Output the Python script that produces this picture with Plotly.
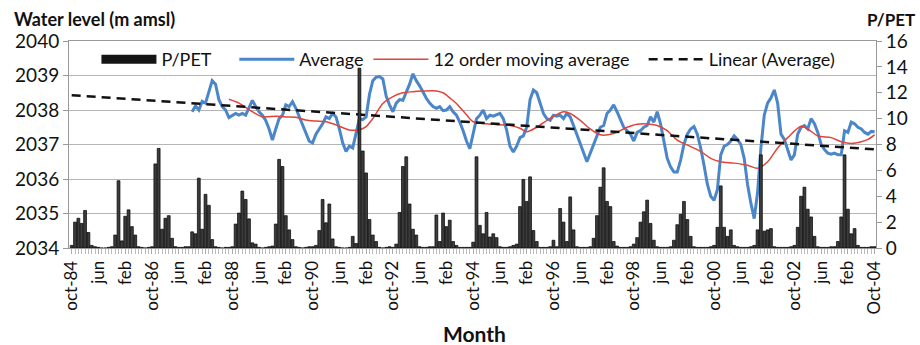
import plotly.graph_objects as go

# ---------------- data ----------------
# month index 0 = Oct 1984 ... 240 = Oct 2004
tick_labels = ["oct-84", "jun", "feb", "oct-86", "jun", "feb", "oct-88", "jun", "feb",
               "oct-90", "jun", "feb", "oct-92", "jun", "feb", "oct-94", "jun", "feb",
               "oct-96", "jun", "feb", "oct-98", "jun", "feb", "oct-00", "jun", "feb",
               "oct-02", "jun", "feb", "Oct-04"]

# P/PET, one list per hydrological year (Oct..Sep)
ppet_years = [
    [0.2, 2.0, 2.3, 1.9, 2.9, 1.2, 0.2, 0.1, 0.05, 0, 0, 0.05],
    [0.1, 1.0, 5.2, 0.55, 2.45, 2.95, 1.65, 1.0, 0.1, 0.05, 0, 0.05],
    [0.1, 6.5, 7.7, 1.45, 2.3, 2.5, 0.75, 0.1, 0.05, 0.05, 0.1, 0.1],
    [1.25, 1.1, 5.4, 1.45, 4.15, 3.3, 0.65, 0.1, 0.05, 0, 0.05, 0.05],
    [0.1, 1.85, 2.7, 4.4, 3.75, 2.25, 0.4, 0.3, 0.05, 0, 0.05, 0.1],
    [0.15, 1.85, 6.85, 6.3, 2.5, 1.4, 0.65, 0.1, 0.05, 0, 0.05, 0.1],
    [0.1, 0.2, 1.35, 3.75, 1.95, 3.4, 0.7, 0.1, 0.05, 0, 0, 0.05],
    [0.9, 0.35, 13.9, 7.5, 5.8, 2.2, 1.0, 0.5, 0.05, 0, 0.05, 0.1],
    [0.05, 0.3, 2.75, 6.3, 7.05, 3.4, 1.45, 1.0, 0.1, 0.05, 0.05, 0.1],
    [0.1, 2.55, 0.5, 2.7, 1.65, 2.15, 0.5, 0.2, 0.05, 0.05, 0.05, 0.05],
    [0.45, 7.05, 1.75, 1.1, 2.75, 0.85, 1.1, 0.8, 0.1, 0.05, 0.05, 0.1],
    [0.2, 0.3, 3.2, 5.3, 3.6, 5.5, 1.35, 0.5, 0.05, 0.05, 0.05, 0.1],
    [0.6, 0.1, 3.05, 2.0, 0.5, 3.95, 1.4, 0.1, 0.05, 0.05, 0.05, 0.1],
    [0.75, 2.5, 4.7, 6.2, 3.6, 3.2, 0.5, 0.15, 0.05, 0.05, 0.05, 0.1],
    [0.3, 0.8, 2.0, 2.8, 3.7, 1.9, 0.6, 0.1, 0.05, 0.05, 0.05, 0.1],
    [0.6, 1.8, 2.6, 3.6, 2.2, 0.9, 0.1, 0.05, 0.05, 0.05, 0.05, 0.1],
    [0.2, 1.6, 4.8, 1.6, 0.9, 1.4, 0.2, 0.1, 0.05, 0.05, 0.05, 0.1],
    [0.2, 1.4, 7.2, 1.3, 1.4, 1.5, 0.1, 0.05, 0.05, 0.05, 0.05, 0.1],
    [0.2, 1.6, 4.0, 4.7, 3.0, 2.4, 0.9, 0.1, 0.05, 0.05, 0.05, 0.1],
    [0.1, 0.5, 2.4, 7.2, 3.0, 1.1, 1.5, 0.2, 0.05, 0.05, 0.05, 0.1],
]
ppet_last = [0.1]

# Average water level (m amsl), monthly from month index 36 (Oct 1987)
avg_start = 36
avg_level = [
    2037.95, 2038.12, 2038.0, 2038.25, 2038.2, 2038.5, 2038.85, 2038.75, 2038.3, 2038.1, 2038.0, 2037.78,
    2037.85, 2037.9, 2037.85, 2037.9, 2037.85, 2038.05, 2038.28, 2038.1, 2037.95, 2037.85, 2037.7, 2037.45,
    2037.13, 2037.45, 2037.75, 2037.85, 2038.15, 2038.1, 2038.24, 2038.05, 2037.8, 2037.55, 2037.35, 2037.1,
    2037.05, 2037.3, 2037.45, 2037.6, 2037.8, 2037.75, 2037.9, 2037.8, 2037.45, 2037.05, 2036.8, 2036.95,
    2036.9, 2037.3, 2037.75, 2037.72, 2037.8, 2038.45, 2038.85, 2038.95, 2038.97, 2038.9, 2038.4, 2038.15,
    2037.95, 2038.2, 2038.3, 2038.28, 2038.5, 2038.75, 2039.05, 2038.85, 2038.7, 2038.5, 2038.34, 2038.2,
    2038.1, 2038.05, 2038.1, 2037.98, 2038.0, 2038.1, 2037.95, 2037.85, 2037.65, 2037.4, 2037.1, 2036.88,
    2037.3, 2037.75, 2037.85, 2038.0, 2037.75, 2037.85, 2037.82, 2037.85, 2037.9, 2037.75, 2037.42, 2036.95,
    2036.78, 2036.95, 2037.2, 2037.25, 2037.5, 2038.3, 2038.58, 2038.5, 2038.2, 2037.9, 2037.75, 2037.7,
    2037.85, 2037.82, 2037.85, 2037.75, 2037.9, 2037.8, 2037.55, 2037.3, 2037.0, 2036.75, 2036.5, 2036.75,
    2037.0, 2037.2, 2037.5, 2037.55, 2037.9, 2038.0, 2038.15, 2037.95, 2037.7, 2037.5, 2037.4, 2037.3,
    2037.1, 2037.35, 2037.4, 2037.5, 2037.55, 2037.8, 2037.65, 2037.95, 2037.6, 2037.1, 2036.6, 2036.35,
    2036.2, 2036.2, 2036.55, 2037.0, 2037.3, 2037.45, 2037.52, 2037.3, 2036.9, 2036.4, 2035.85, 2035.5,
    2035.38, 2035.7, 2036.7, 2036.95, 2037.0, 2037.1, 2037.25, 2037.15, 2037.0, 2036.6, 2035.85, 2035.3,
    2034.85, 2035.6, 2036.9, 2037.85, 2038.2, 2038.35, 2038.58, 2038.2, 2037.3, 2037.15, 2036.85, 2036.55,
    2036.7, 2037.3, 2037.5, 2037.55, 2037.45, 2037.75, 2037.6, 2037.35, 2037.0, 2036.85, 2036.75, 2036.72,
    2036.75, 2036.7, 2036.7, 2037.4, 2037.35, 2037.65, 2037.6, 2037.5, 2037.45, 2037.35, 2037.3, 2037.38,
    2037.37,
]

# 12 order moving average
ma_months = [47, 50, 54, 57, 61, 64, 67, 70, 73, 76, 79, 83, 86, 88, 90, 93, 96, 99, 102, 105,
             108, 111, 113, 115, 118, 120, 124, 128, 131, 134, 136, 139, 143, 147, 149, 152, 155,
             158, 162, 166, 169, 173, 175, 178, 181, 185, 188, 191, 194, 198, 202, 205, 208, 211,
             214, 218, 220, 223, 227, 230, 233, 236, 238, 240]
ma_values = [2038.31, 2038.2, 2037.95, 2037.8, 2037.82, 2037.8, 2037.79, 2037.71, 2037.68, 2037.66,
             2037.57, 2037.42, 2037.43, 2037.52, 2037.75, 2038.19, 2038.39, 2038.5, 2038.53, 2038.55,
             2038.56, 2038.5, 2038.35, 2038.19, 2037.86, 2037.66, 2037.6, 2037.57, 2037.55, 2037.47,
             2037.37, 2037.5, 2037.76, 2037.95, 2037.9, 2037.7, 2037.45, 2037.28, 2037.32, 2037.5,
             2037.59, 2037.59, 2037.55, 2037.4, 2037.13, 2036.94, 2036.8, 2036.6, 2036.5, 2036.46,
             2036.4, 2036.31, 2036.5, 2036.9, 2037.2, 2037.53, 2037.45, 2037.25, 2037.2, 2037.08,
             2037.03, 2037.08, 2037.15, 2037.28]

# Linear (Average) trend line end points
trend_months = [0, 240]
trend_values = [2038.43, 2036.86]

# ---------------- build ----------------
ppet = [v for yr in ppet_years for v in yr] + ppet_last
month_idx = list(range(len(ppet)))
avg_x = list(range(avg_start, avg_start + len(avg_level)))

FONT = "Lato, 'Open Sans', sans-serif"
NB = "\u00a0"

fig = go.Figure()
fig.add_trace(go.Bar(x=month_idx, y=ppet, yaxis="y2", name="P/PET", showlegend=False,
                     marker=dict(color="#3c3c3c", line=dict(width=0.7, color="#000000"))))
# legend swatch for bars (wide black bar like the original)
fig.add_trace(go.Scatter(x=[None], y=[None], mode="lines", name="P/PET" + NB * 4,
                         line=dict(color="#151515", width=9)))
fig.add_trace(go.Scatter(x=avg_x, y=avg_level, mode="lines", name="Average",
                         line=dict(color="#4a86c8", width=3)))
fig.add_trace(go.Scatter(x=ma_months, y=ma_values, mode="lines",
                         name="12 order moving average" + NB * 2,
                         line=dict(color="#e2443a", width=1.5, shape="spline", smoothing=0.8)))
fig.add_trace(go.Scatter(x=trend_months, y=trend_values, mode="lines", name="Linear (Average)",
                         line=dict(color="#111111", width=2.5, dash="9px,6px")))

fig.update_layout(
    width=920, height=345,
    margin=dict(l=69, r=42, t=41, b=97),
    paper_bgcolor="white", plot_bgcolor="white",
    font=dict(family=FONT, size=18, color="#111"),
    bargap=0.15,
    showlegend=True,
    legend=dict(orientation="h", x=0.034, y=1.0, xanchor="left", yanchor="top",
                font=dict(size=18, family=FONT), bgcolor="rgba(0,0,0,0)",
                itemwidth=55, traceorder="normal"),
    xaxis=dict(range=[-0.8, 240.4], tickmode="array",
               tickvals=list(range(0, 241, 8)), ticktext=tick_labels,
               tickangle=-90, ticks="outside", ticklen=5, tickcolor="#aaaaaa",
               tickfont=dict(size=17, family=FONT),
               minor=dict(tickmode="linear", tick0=0, dtick=1, ticks="outside",
                          ticklen=5, tickcolor="#bbbbbb"),
               showline=True, linecolor="#999999", mirror=True,
               showgrid=False, zeroline=False),
    yaxis=dict(range=[2034, 2040], dtick=1, tickformat="d",
               showgrid=True, gridcolor="#b5b5b5", gridwidth=1,
               showline=True, linecolor="#999999", ticks="outside", ticklen=5,
               tickcolor="#999999", zeroline=False, tickfont=dict(size=19, family=FONT)),
    yaxis2=dict(range=[0, 16], dtick=2, overlaying="y", side="right",
                showgrid=False, showline=True, linecolor="#999999", ticks="outside",
                ticklen=5, tickcolor="#999999", zeroline=False,
                tickfont=dict(size=19, family=FONT)),
)

fig.add_annotation(text="<b>Water level (m amsl)</b>", xref="paper", yref="paper",
                   x=-0.0705, y=1.106, xanchor="left", yanchor="middle", showarrow=False,
                   font=dict(size=18, family=FONT, color="#111"))
fig.add_annotation(text="<b>P/PET</b>", xref="paper", yref="paper",
                   x=0.986, y=1.106, xanchor="left", yanchor="middle", showarrow=False,
                   font=dict(size=17, family=FONT, color="#111"))
fig.add_annotation(text="<b>Month</b>", xref="paper", yref="paper",
                   x=0.502, y=-0.411, xanchor="center", yanchor="middle", showarrow=False,
                   font=dict(size=21, family=FONT, color="#111"))

fig.write_html("out.html")
